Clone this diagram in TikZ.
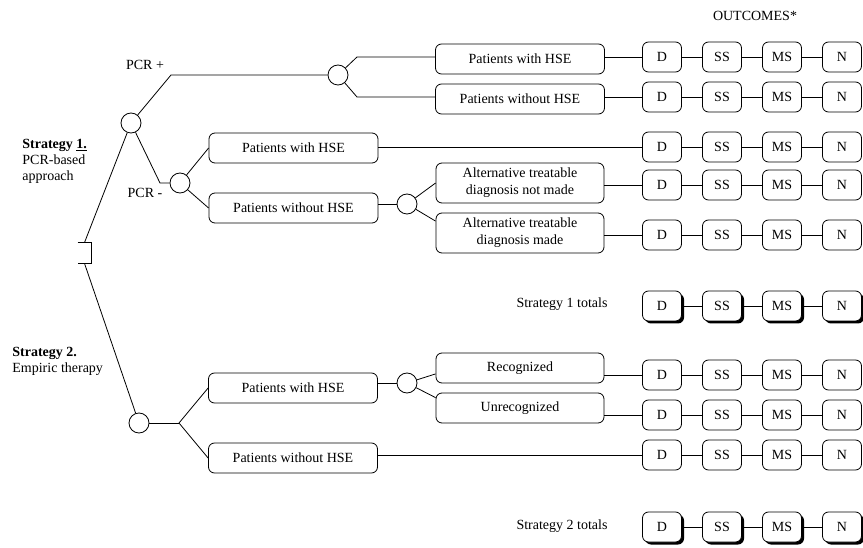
\documentclass[tikz,border=0pt]{standalone}
\usepackage{fontspec}
\setmainfont{Liberation Serif}
\usepackage{tikz}
\usetikzlibrary{shadows}
\tikzstyle{branchbox}=[rectangle, rounded corners=6pt, draw=black, minimum width=169pt, minimum height=30pt, text centered, inner sep=2pt, font=\fontsize{14}{17}\selectfont]
\tikzstyle{altbox}=[branchbox, minimum width=168pt, minimum height=40pt, align=center]
\tikzstyle{outcome}=[rectangle, rounded corners=6pt, draw=black, fill=white, minimum width=39pt, minimum height=30pt, inner sep=0pt, font=\fontsize{14}{17}\selectfont]
\tikzstyle{totalbox}=[outcome, drop shadow={shadow xshift=2.5pt, shadow yshift=-2.5pt, fill=black, opacity=1}]
\tikzstyle{chance}=[circle, draw=black, minimum size=20pt, inner sep=0pt]
\tikzset{
	labeltext/.style={
		font=\fontsize{14}{16}\selectfont,
		inner sep=0pt
	},
	decisionbox/.style={
		rectangle,
		minimum width=13pt,
		minimum height=20pt,
		inner sep=0pt
	}
}

\begin{document}
\begin{tikzpicture}[x=1pt, y=-1pt, line width=0.8pt]
	\useasboundingbox (0,0) rectangle (863,548);
	
	% decision and chance nodes
	\node(Decision)[decisionbox] at (84.5,253) {};
	\draw (Decision.north west) -- (Decision.north east) -- (Decision.south east) -- (Decision.south west);
	
	\node(ChancePCR)[chance] at (131,123) {};
	\node(ChancePos)[chance] at (338,75) {};
	\node(ChanceNeg)[chance] at (180,183) {};
	\node(ChanceAlt)[chance] at (407,204) {};
	\node(ChanceEmp)[chance] at (139,423) {};
	\node(ChanceRec)[chance] at (407,383) {};
	
	% branch boxes
	\node(PosHSE)[branchbox] at (520,59) {Patients with HSE};
	\node(PosNoHSE)[branchbox] at (520,99) {Patients without HSE};
	\node(NegHSE)[branchbox] at (293.5,148) {Patients with HSE};
	\node(NegNoHSE)[branchbox] at (293.5,208) {Patients without HSE};
	\node(AltNotMade)[altbox] at (520,183) {Alternative treatable\\diagnosis not made};
	\node(AltMade)[altbox] at (520,233) {Alternative treatable\\diagnosis made};
	\node(EmpHSE)[branchbox] at (293,388) {Patients with HSE};
	\node(EmpNoHSE)[branchbox] at (293,458) {Patients without HSE};
	\node(Recog)[altbox, minimum height=30pt] at (520,368) {Recognized};
	\node(Unrecog)[altbox, minimum height=30pt] at (520,408) {Unrecognized};
	
	% labels
	\node(OutHead)[labeltext] at (755,16) {OUTCOMES*};
	\node(PCRpos)[labeltext] at (145,65) {PCR +};
	\node(PCRneg)[labeltext] at (145,193) {PCR -};
	\node(Strat1)[labeltext, anchor=west, align=left] at (22,161) {\textbf{Strategy \underline{1.}}\\PCR-based\\approach};
	\node(Strat2)[labeltext, anchor=west, align=left] at (12,361) {\textbf{Strategy 2.}\\Empiric therapy};
	\node(Tot1)[labeltext] at (562,304) {Strategy 1 totals};
	\node(Tot2)[labeltext] at (562,526) {Strategy 2 totals};
	
	% outcome rows
	\foreach \row/\y in {A/57, B/97, C/147, E/185, F/235, G/375, H/415, I/455}{
		\node(\row D)[outcome] at (662,\y) {D};
		\node(\row SS)[outcome] at (722,\y) {SS};
		\node(\row MS)[outcome] at (782,\y) {MS};
		\node(\row N)[outcome] at (842,\y) {N};
		\draw (\row D) -- (\row SS) -- (\row MS) -- (\row N);
	}
	\foreach \row/\y in {T/306, U/527}{
		\node(\row D)[totalbox] at (662,\y) {D};
		\node(\row SS)[totalbox] at (722,\y) {SS};
		\node(\row MS)[totalbox] at (782,\y) {MS};
		\node(\row N)[totalbox] at (842,\y) {N};
		\draw (\row D) -- (\row SS) -- (\row MS) -- (\row N);
	}
	
	% helper coordinates for the bends
	\coordinate (PosBend) at (171,75);
	\coordinate (NegBend) at (160,183);
	\coordinate (PosUp) at (357,57);
	\coordinate (PosDown) at (357,97);
	\coordinate (EmpBend) at (179,423);
	
	% strategy 1
	\draw (Decision.north) -- (ChancePCR);
	\draw (ChancePCR) -- (PosBend) -- (ChancePos);
	\draw (ChancePCR) -- (NegBend) -- (ChanceNeg);
	\draw (ChancePos) -- (PosUp) -- (PosUp -| PosHSE.west);
	\draw (ChancePos) -- (PosDown) -- (PosDown -| PosNoHSE.west);
	\draw (ChanceNeg) -- (NegHSE.west);
	\draw (ChanceNeg) -- (NegNoHSE.west);
	\draw (ChanceAlt -| NegNoHSE.east) -- (ChanceAlt);
	\draw (ChanceAlt) -- (AltNotMade.west);
	\draw (ChanceAlt) -- (AltMade.172);
	
	\draw (AD.west -| PosHSE.east) -- (AD);
	\draw (BD.west -| PosNoHSE.east) -- (BD);
	\draw (CD.west -| NegHSE.east) -- (CD);
	\draw (ED.west -| AltNotMade.east) -- (ED);
	\draw (FD.west -| AltMade.east) -- (FD);
	
	% strategy 2
	\draw (Decision.south) -- (ChanceEmp);
	\draw (ChanceEmp) -- (EmpBend);
	\draw (EmpBend) -- (EmpHSE.west);
	\draw (EmpBend) -- (EmpNoHSE.west);
	\draw (ChanceRec -| EmpHSE.east) -- (ChanceRec);
	\draw (ChanceRec) -- (Recog.184);
	\draw (ChanceRec) -- (Unrecog.173);
	
	\draw (GD.west -| Recog.east) -- (GD);
	\draw (HD.west -| Unrecog.east) -- (HD);
	\draw (ID.west -| EmpNoHSE.east) -- (ID);
\end{tikzpicture}
\end{document}
